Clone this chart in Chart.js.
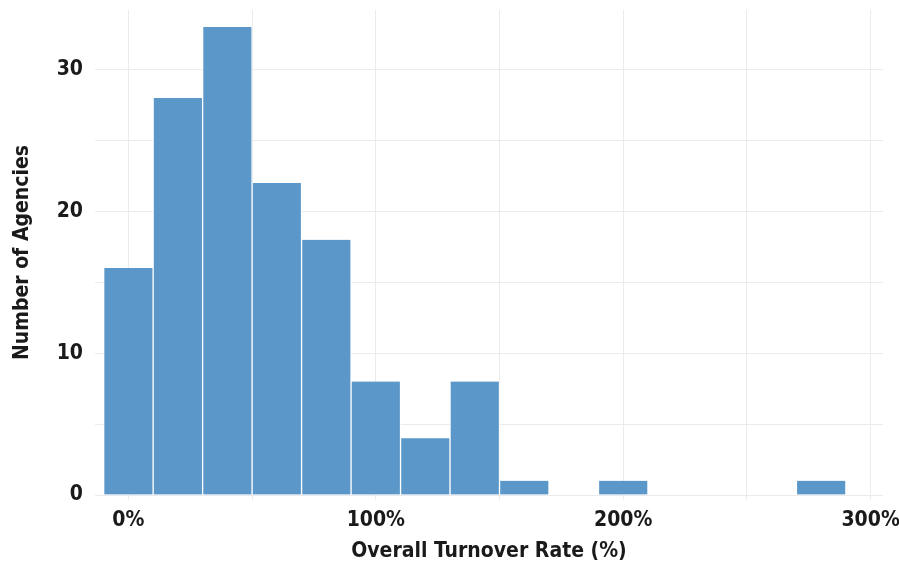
<!DOCTYPE html>
<html>
<head>
<meta charset="utf-8">
<script src="https://cdn.jsdelivr.net/npm/chart.js@4.4.1/dist/chart.umd.min.js"></script>
<style>
  html, body { margin: 0; padding: 0; background: #fff; }
  #wrap { width: 899px; height: 566px; }
</style>
</head>
<body>
<div id="wrap"><canvas id="hist"></canvas></div>
<script>
// histogram bins (bin centre, %) and agency counts
const binCenters = [0, 20, 40, 60, 80, 100, 120, 140, 160, 180, 200, 220, 240, 260, 280];
const counts = [16, 28, 33, 22, 18, 8, 4, 8, 1, 0, 1, 0, 0, 0, 1];
const xTicks = [0, 50, 100, 150, 200, 250, 300];
const yTicks = [0, 5, 10, 15, 20, 25, 30];
const xLabeled = [0, 100, 200, 300];
const yLabeled = [0, 10, 20, 30];

const font = "'Liberation Sans Narrow', 'DejaVu Sans Condensed', sans-serif";
const ctx = document.getElementById('hist');

new Chart(ctx, {
  type: 'bar',
  data: {
    datasets: [
      {
        data: binCenters.map((b, i) => ({ x: b, y: counts[i] })),
        backgroundColor: 'rgb(91, 152, 201)',
        borderColor: '#ffffff',
        borderWidth: { left: 1, right: 1, top: 0, bottom: 0 },
        borderSkipped: false,
        barPercentage: 1,
        categoryPercentage: 1,
      },
    ],
  },
  options: {
    responsive: true,
    maintainAspectRatio: false,
    animation: false,
    layout: { padding: { top: 10, right: 16, left: 0, bottom: 0 } },
    plugins: { legend: { display: false }, tooltip: { enabled: false } },
    scales: {
      x: {
        type: 'linear',
        offset: false,
        min: -13.5,
        max: 305,
        afterBuildTicks: (scale) => {
          scale.ticks = xTicks.map((v) => ({ value: v }));
        },
        afterFit: (scale) => {
          scale.height = 71;
          scale.paddingLeft = 0;
          scale.paddingRight = 0;
        },
        grid: { offset: false, color: '#ebebeb', lineWidth: 1, drawTicks: true, tickLength: 5 },
        border: { display: false },
        ticks: {
          padding: 8,
          color: '#1a1a1a',
          font: { family: font, size: 21, weight: 'bold' },
          callback: (v) => (xLabeled.includes(v) ? v + '%' : ''),
          maxRotation: 0,
          autoSkip: false,
        },
        title: {
          display: true,
          text: 'Overall Turnover Rate (%)',
          color: '#1a1a1a',
          font: { family: font, size: 21, weight: 'bold' },
          padding: { top: 4, bottom: 2 },
        },
      },
      y: {
        min: 0,
        max: 34.2,
        afterBuildTicks: (scale) => {
          scale.ticks = yTicks.map((v) => ({ value: v }));
        },
        afterFit: (scale) => {
          scale.width = 95;
          scale.paddingTop = 0;
          scale.paddingBottom = 0;
        },
        grid: { color: '#ebebeb', lineWidth: 1, drawTicks: false },
        border: { display: false },
        ticks: {
          padding: 12,
          color: '#1a1a1a',
          font: { family: font, size: 21, weight: 'bold' },
          callback: (v) => (yLabeled.includes(v) ? v : ''),
          autoSkip: false,
        },
        title: {
          display: true,
          text: 'Number of Agencies',
          color: '#1a1a1a',
          font: { family: font, size: 21, weight: 'bold' },
          padding: { top: 10, bottom: 0 },
        },
      },
    },
  },
});
</script>
</body>
</html>
